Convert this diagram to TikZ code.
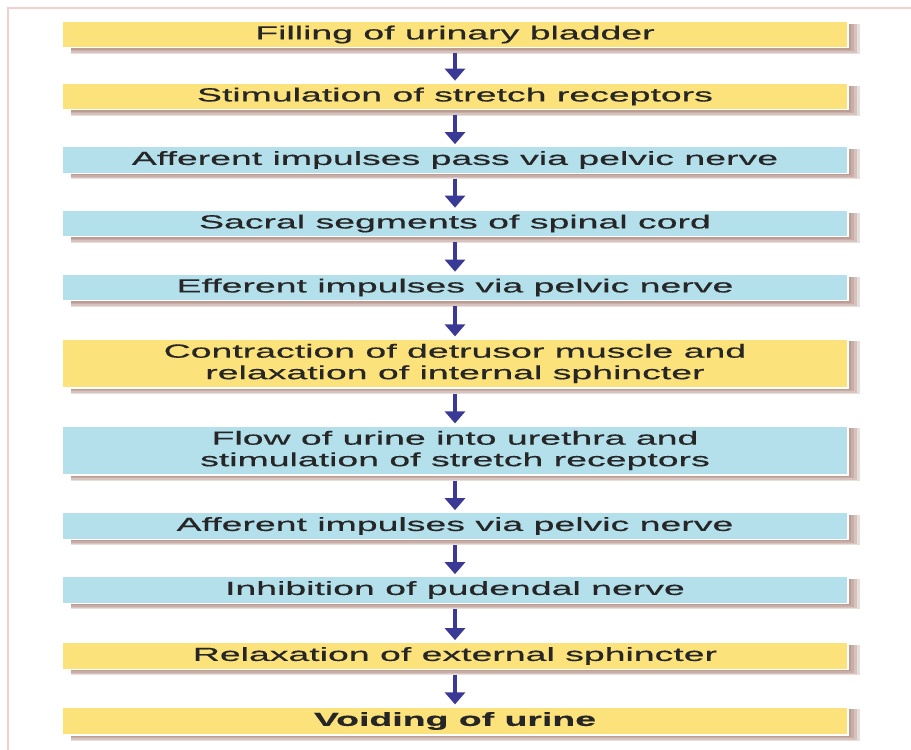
\documentclass[tikz,border=0pt]{standalone}
\usepackage{fontspec}
\setmainfont{Liberation Sans}[FakeStretch=1.97,FakeBold=0.5]
\usetikzlibrary{arrows.meta,backgrounds}

\definecolor{boxyellow}{HTML}{FCE27A}
\definecolor{boxblue}{HTML}{B4E0EC}
\definecolor{arrowblue}{HTML}{3A3A96}
\definecolor{shadowbrown}{HTML}{8E5A4A}
\definecolor{framepink}{HTML}{F2CFCC}
\definecolor{textgray}{HTML}{262626}

\tikzset{
  stagebox/.style={rectangle, draw=white, line width=1.2pt, inner sep=0pt,
    minimum width=786pt, minimum height=26.5pt, align=center,
    text=textgray, font=\fontsize{19}{21.5}\selectfont},
  yellowbox/.style={stagebox, fill=boxyellow},
  bluebox/.style={stagebox, fill=boxblue},
  tallbox/.style={minimum height=49pt},
  flowarrow/.style={draw=arrowblue, line width=3.2pt,
    -{Triangle[width=20pt,length=12pt]}},
  shadowlayer/.style={fill=shadowbrown, fill opacity=0.2, draw=none}
}

\begin{document}
\begin{tikzpicture}[x=1pt,y=-1pt]
  \useasboundingbox (0,0) rectangle (911,750);

  % thin page frame
  \draw[framepink, line width=1.2pt] (8,750) -- (8,8) -- (911,8);

  % stages of the micturition reflex
  \node[yellowbox] (s1) at (455,34.5) {Filling of urinary bladder};
  \node[yellowbox] (s2) at (455,96.5) {Stimulation of stretch receptors};
  \node[bluebox] (s3) at (455,160) {Afferent impulses pass via pelvic nerve};
  \node[bluebox] (s4) at (455,223.5) {Sacral segments of spinal cord};
  \node[bluebox] (s5) at (455,287.5) {Efferent impulses via pelvic nerve};
  \node[yellowbox, tallbox] (s6) at (455,363.5)
    {Contraction of detrusor muscle and\\relaxation of internal sphincter};
  \node[bluebox, tallbox] (s7) at (455,450.5)
    {Flow of urine into urethra and\\stimulation of stretch receptors};
  \node[bluebox] (s8) at (455,526) {Afferent impulses via pelvic nerve};
  \node[bluebox] (s9) at (455,590) {Inhibition of pudendal nerve};
  \node[yellowbox] (s10) at (455,656) {Relaxation of external sphincter};
  \node[yellowbox, minimum height=28pt] (s11) at (455,721) {\bfseries Voiding of urine};

  % soft brown shadows behind each box
  \begin{scope}[on background layer]
    \foreach \n in {s1,s2,s3,s4,s5,s6,s7,s8,s9,s10,s11} {
      \foreach \k in {1,2,3,4} {
        \fill[shadowlayer] ([xshift=10pt,yshift=-3pt]\n.north west)
          rectangle ([xshift={2.8*\k pt},yshift={-1.4*\k pt}]\n.south east);
      }
    }
  \end{scope}

  % connectors between consecutive stages
  \foreach \a/\b in {s1/s2,s2/s3,s3/s4,s4/s5,s5/s6,s6/s7,s7/s8,s8/s9,s9/s10,s10/s11} {
    \draw[flowarrow] ([yshift=-5pt]\a.south) -- ([yshift=2pt]\b.north);
  }
\end{tikzpicture}
\end{document}
